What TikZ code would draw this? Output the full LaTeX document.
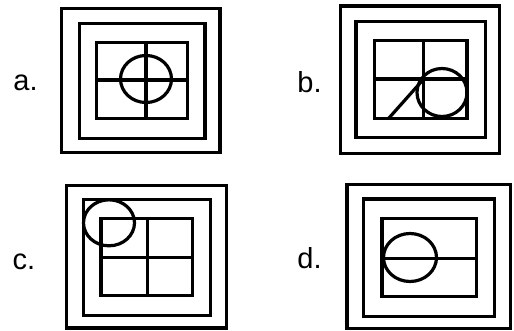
\documentclass[tikz,border=0pt]{standalone}
\usepackage{fontspec}
\setmainfont{Liberation Sans}
\begin{document}
\begin{tikzpicture}[x=1pt,y=-1pt,
  fig/.style={line width=3.2pt,black},
  lbl/.style={font=\fontsize{29}{31}\selectfont,inner sep=0pt}]
\useasboundingbox (0,0) rectangle (514,330);
% a
\draw[fig] (61.7,8.3) rectangle (220,152.7);
\draw[fig] (79.3,23.3) rectangle (205,138.3);
\draw[fig] (96.7,42.3) rectangle (187.3,118.7);
\draw[fig] (146,42.3) -- (146,118.7);
\draw[fig] (96.7,80) -- (187.3,80);
\draw[fig] (146,79) ellipse [x radius=25.5, y radius=23.5];
\node[lbl] (la) at (25.5,83) {a.};
% b
\draw[fig] (340.3,6) rectangle (499.7,153.3);
\draw[fig] (356,21.7) rectangle (485.3,137.3);
\draw[fig] (374.3,40.7) rectangle (467,118.3);
\draw[fig] (423.7,40.7) -- (423.7,118.3);
\draw[fig] (374.3,79) -- (467,79);
\draw[fig] (388.7,118.3) -- (423.7,79);
\draw[fig] (442,92.5) ellipse [x radius=25, y radius=24];
\node[lbl] (lb) at (309.5,82) {b.};
% c
\draw[fig] (66.7,185.7) rectangle (226.7,328);
\draw[fig] (83.3,199.3) rectangle (210.7,315.7);
\draw[fig] (101,218.3) rectangle (192.7,295.7);
\draw[fig] (147.7,218.3) -- (147.7,295.7);
\draw[fig] (101,257.7) -- (192.7,257.7);
\draw[fig] (109,222.8) ellipse [x radius=25.5, y radius=23];
\node[lbl] (lc) at (24,262) {c.};
% d
\draw[fig] (347,184.3) rectangle (510.3,328.3);
\draw[fig] (363.7,199) rectangle (494.3,316.7);
\draw[fig] (382,218.3) rectangle (476.3,296.7);
\draw[fig] (382,258.3) -- (476.3,258.3);
\draw[fig] (410,257.5) ellipse [x radius=26.5, y radius=24];
\node[lbl] (ld) at (309.5,258) {d.};
\end{tikzpicture}
\end{document}
